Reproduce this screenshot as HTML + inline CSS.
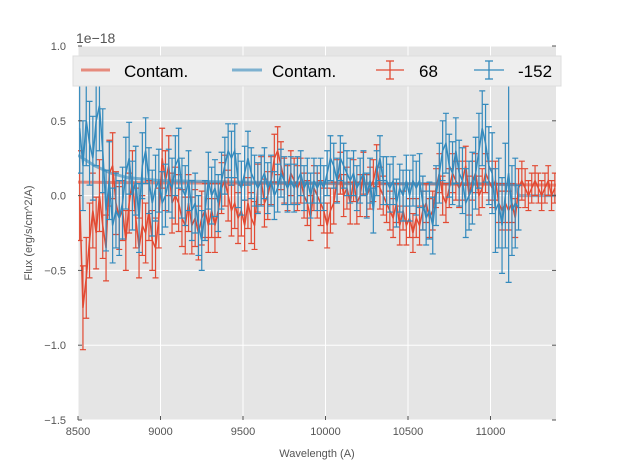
<!DOCTYPE html>
<html><head><meta charset="utf-8"><style>
body{margin:0;background:#fff;font-family:"Liberation Sans",sans-serif}
svg text{font-family:"Liberation Sans",sans-serif}
</style></head><body>
<svg id="chart" width="617" height="467">
<rect x="0" y="0" width="617" height="467" fill="#fff"/>
<rect id="plotbg" x="78" y="46" width="478" height="374" fill="#e5e5e5"/>
<g id="grid"></g>
<defs><clipPath id="clip"><rect x="78" y="46" width="478" height="374"/></clipPath></defs>
<g id="series" clip-path="url(#clip)"></g>
<g id="axes"></g>
<text x="76" y="43" font-size="14" fill="#555">1e−18</text>
<text x="317" y="457" font-size="11" fill="#555" text-anchor="middle">Wavelength (A)</text>
<text transform="translate(32,233) rotate(-90)" font-size="11" fill="#555" text-anchor="middle">Flux (erg/s/cm^2/A)</text>
<g>
<rect x="73" y="56" width="488" height="30" fill="#eeeeee" stroke="#dddddd"/>
<line x1="81" y1="70" x2="110" y2="70" stroke="#E24A33" stroke-width="3" opacity="0.6"/>
<text x="124" y="77" font-size="17" fill="#000">Contam.</text>
<line x1="232" y1="70" x2="262" y2="70" stroke="#348ABD" stroke-width="3" opacity="0.6"/>
<text x="272" y="77" font-size="17" fill="#000">Contam.</text>
<g stroke="#E24A33" stroke-width="1.3"><line x1="376" y1="70" x2="404" y2="70"/><line x1="390" y1="61" x2="390" y2="79"/><line x1="386" y1="61" x2="394" y2="61"/><line x1="386" y1="79" x2="394" y2="79"/></g>
<text x="419" y="77" font-size="17" fill="#000">68</text>
<g stroke="#348ABD" stroke-width="1.3"><line x1="474" y1="70" x2="504" y2="70"/><line x1="489" y1="61" x2="489" y2="79"/><line x1="485" y1="61" x2="493" y2="61"/><line x1="485" y1="79" x2="493" y2="79"/></g>
<text x="518" y="77" font-size="17" fill="#000">-152</text>
</g>
</svg>
<script>
const xTicks=[8500,9000,9500,10000,10500,11000];
const yTicks=[1.0,0.5,0.0,-0.5,-1.0,-1.5];
const yTickLabels=["1.0","0.5","0.0","−0.5","−1.0","−1.5"];
const redWave0=8510, step=20;
const redFlux=[0.0,-0.75,-0.55,-0.3,-0.1,-0.25,0.0,-0.2,-0.35,0.15,0.2,-0.05,-0.15,-0.1,-0.3,-0.05,0.1,-0.15,-0.35,-0.2,-0.25,-0.1,-0.3,-0.35,-0.15,0.25,0.1,0.2,-0.05,0.0,-0.05,-0.15,-0.2,-0.05,-0.2,-0.15,-0.25,-0.15,-0.1,-0.2,-0.1,-0.2,-0.1,0.05,0.1,0.0,-0.1,-0.05,-0.15,-0.1,-0.2,-0.05,-0.15,-0.2,0.05,0.1,-0.05,0.0,0.1,0.25,0.3,0.2,0.1,0.05,0.15,0.1,0.05,0.1,0.0,-0.05,-0.15,0.05,0.0,-0.05,-0.1,-0.2,-0.1,-0.05,0.1,0.15,0.0,0.05,-0.05,0.1,-0.05,0.0,0.15,0.0,0.05,0.1,0.2,0.05,0.0,-0.05,-0.1,-0.15,-0.05,-0.2,-0.1,-0.2,-0.15,-0.25,-0.15,-0.2,-0.1,-0.05,-0.15,-0.1,0.05,0.15,0.0,-0.05,0.05,0.15,0.1,0.05,0.1,0.2,0.0,0.1,0.15,0.0,0.05,0.15,0.1,0.05,0.1,-0.05,-0.1,-0.05,-0.1,-0.05,-0.15,0.05,0.1,0.05,0.0,0.05,0.1,0.05,0.0,0.05,0.1,0.0,0.05];
const redErr=[0.3,0.28,0.27,0.25,0.25,0.24,0.24,0.22,0.22,0.22,0.22,0.21,0.21,0.2,0.2,0.2,0.2,0.2,0.2,0.2,0.2,0.2,0.2,0.2,0.2,0.2,0.2,0.2,0.2,0.19,0.19,0.19,0.19,0.19,0.19,0.19,0.18,0.18,0.18,0.18,0.18,0.18,0.18,0.17,0.17,0.17,0.17,0.17,0.17,0.17,0.17,0.17,0.17,0.16,0.16,0.16,0.16,0.16,0.16,0.16,0.16,0.16,0.15,0.15,0.15,0.15,0.15,0.15,0.15,0.15,0.15,0.15,0.15,0.15,0.15,0.15,0.15,0.14,0.14,0.14,0.14,0.14,0.14,0.14,0.14,0.14,0.14,0.14,0.14,0.14,0.14,0.14,0.13,0.13,0.13,0.13,0.13,0.13,0.13,0.13,0.13,0.13,0.13,0.13,0.13,0.13,0.13,0.13,0.13,0.13,0.13,0.13,0.13,0.13,0.13,0.13,0.13,0.13,0.13,0.13,0.13,0.13,0.13,0.13,0.13,0.13,0.13,0.13,0.13,0.13,0.13,0.13,0.13,0.13,0.13,0.13,0.1,0.1,0.1,0.1,0.1,0.1,0.1,0.1,0.1,0.1,0.1];
const blueFlux=[0.45,0.2,0.5,0.35,0.25,0.5,0.6,0.3,-0.1,0.1,-0.2,-0.1,-0.15,-0.05,0.15,0.25,0.0,0.1,-0.15,0.2,0.3,0.1,-0.05,0.05,0.1,-0.05,0.0,0.1,0.05,0.2,0.25,0.05,0.0,0.1,-0.1,-0.05,-0.2,-0.3,-0.1,0.1,0.0,0.05,-0.05,0.1,0.2,0.3,0.25,0.3,0.1,0.05,0.15,0.25,0.15,0.1,0.05,0.1,0.15,0.05,0.1,0.0,0.05,0.15,0.1,0.05,0.1,0.05,0.1,0.15,0.05,0.1,0.0,0.1,0.05,0.1,0.05,0.15,0.25,0.2,0.1,0.25,0.2,0.15,0.1,0.15,0.05,0.1,0.15,0.0,0.1,-0.1,0.15,0.25,0.1,0.1,0.05,0.1,-0.05,0.05,0.0,0.1,0.0,0.1,0.05,0.1,-0.05,-0.15,-0.1,-0.2,0.0,0.15,0.3,0.35,0.2,0.15,0.3,0.15,0.1,-0.05,0.0,0.05,0.15,0.3,0.45,0.35,0.2,0.15,-0.1,-0.05,-0.2,0.0,0.15,-0.1,-0.05,-0.08];
const blueErr=[0.3,0.3,0.3,0.28,0.28,0.3,0.3,0.28,0.27,0.26,0.25,0.25,0.25,0.24,0.24,0.24,0.23,0.23,0.23,0.22,0.22,0.22,0.22,0.22,0.21,0.21,0.21,0.21,0.2,0.2,0.2,0.2,0.2,0.2,0.2,0.2,0.2,0.2,0.2,0.19,0.19,0.19,0.19,0.19,0.19,0.18,0.18,0.18,0.18,0.18,0.18,0.18,0.17,0.17,0.17,0.17,0.17,0.17,0.17,0.16,0.16,0.16,0.16,0.16,0.16,0.16,0.16,0.15,0.15,0.15,0.15,0.15,0.15,0.15,0.15,0.15,0.15,0.15,0.15,0.15,0.15,0.15,0.15,0.15,0.15,0.15,0.15,0.15,0.15,0.15,0.15,0.15,0.16,0.16,0.16,0.16,0.16,0.16,0.17,0.17,0.17,0.17,0.18,0.18,0.18,0.18,0.19,0.19,0.2,0.2,0.2,0.2,0.21,0.21,0.22,0.22,0.22,0.23,0.23,0.24,0.24,0.25,0.25,0.26,0.26,0.27,0.28,0.3,0.32,0.35,0.73,0.3,0.3];
const redContamWave=[8500,9000,10000,11000,11400];
const redContamFlux=[0.09,0.085,0.08,0.075,0.07];
const blueContamWave=[8500,8600,8700,8800,9000,9500,10000,10500,11000,11150,11170,11400];
const blueContamFlux=[0.27,0.2,0.15,0.12,0.1,0.09,0.085,0.08,0.08,0.075,0.0,0.0];

const X0=78,X1=556,xMin=8500,xMax=11397,Y0=46,Y1=420,yMin=-1.5,yMax=1.0;
const sx=v=>X0+(v-xMin)/(xMax-xMin)*(X1-X0);
const sy=v=>Y1-(v-yMin)/(yMax-yMin)*(Y1-Y0);
const NS="http://www.w3.org/2000/svg";
function mk(tag,attrs,parent){const e=document.createElementNS(NS,tag);for(const k in attrs)e.setAttribute(k,attrs[k]);parent.appendChild(e);return e;}
const grid=document.getElementById('grid'),axes=document.getElementById('axes'),ser=document.getElementById('series');
xTicks.forEach(t=>{const x=sx(t);
 const g=mk('line',{x1:x,x2:x,y1:Y0,y2:Y1,stroke:'#fff','stroke-width':1},grid);
 
 
 const tk=mk('line',{x1:x,x2:x,y1:Y1,y2:Y1-4,stroke:'#555'},axes);
 
 
 const lb=mk('text',{x:x,y:Y1+15,'font-size':11,fill:'#555','text-anchor':'middle'},axes);lb.textContent=t;
 
 
});
yTicks.forEach((t,i)=>{const y=sy(t);
 const g=mk('line',{x1:X0,x2:X1,y1:y,y2:y,stroke:'#fff','stroke-width':1},grid);
 
 
 const tk=mk('line',{x1:X0,x2:X0+4,y1:y,y2:y,stroke:'#555'},axes);
 
 
 const tk2=mk('line',{x1:X1,x2:X1-4,y1:y,y2:y,stroke:'#555'},axes);
 
 
 const lb=mk('text',{x:X0-12,y:y+4,'font-size':11,fill:'#555','text-anchor':'end'},axes);lb.textContent=yTickLabels[i];
 
 
});
function errSeries(flux,err,color,name){
 const g=mk('g',{stroke:color,'stroke-width':1.2,fill:'none'},ser);
 
 
 let d='';
 flux.forEach((v,i)=>{const x=sx(redWave0+i*step),e=err[i]||0.15;
  const t=sy(v+e),b=sy(v-e);
  const l=mk('path',{d:`M${x},${t}V${b}M${x-3},${t}H${x+3}M${x-3},${b}H${x+3}`},g);
  
  
  d+=(i?'L':'M')+x+','+sy(v);
 });
 const p=mk('path',{d:d,'stroke-width':1.5},g);
 
 
}
function contam(w,f,color,name){
 const d=w.map((v,i)=>(i?'L':'M')+sx(v)+','+sy(f[i])).join('');
 const p=mk('path',{d:d,stroke:color,'stroke-width':3,fill:'none',opacity:0.6},ser);
 
 
}
contam(redContamWave,redContamFlux,'#E24A33','red-contam-line');
contam(blueContamWave,blueContamFlux,'#348ABD','blue-contam-line');
errSeries(redFlux,redErr,'#E24A33','series-68');
errSeries(blueFlux,blueErr,'#348ABD','series-minus152');
</script>
</body></html>
